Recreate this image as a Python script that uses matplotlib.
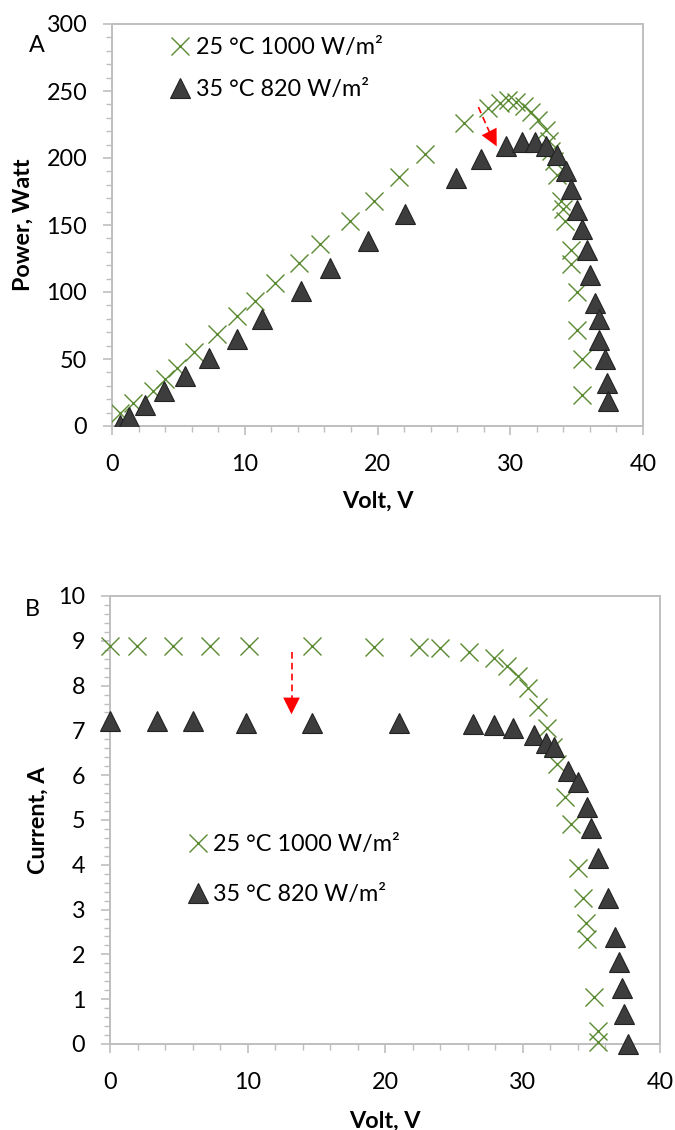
import matplotlib
matplotlib.use('Agg')
import matplotlib.pyplot as plt
from matplotlib.ticker import MultipleLocator
from matplotlib.lines import Line2D

plt.rcParams['font.family'] = ['Lato', 'DejaVu Sans']

series_labels = ['25 °C 1000 W/m²', '35 °C 820 W/m²']

# Panel A: power vs voltage
a_v_std = [0.6, 1.6, 3.1, 4.0, 4.9, 6.2, 7.9, 9.4, 10.8, 12.3, 14.1, 15.7, 17.9, 19.7,
           21.6, 23.6, 26.5, 28.3, 29.2, 29.8, 30.4, 31.0, 31.6, 32.1, 32.7, 32.9, 33.1,
           33.3, 33.5, 33.8, 34.0, 34.1, 34.6, 34.6, 35.0, 35.0, 35.4, 35.4]
a_p_std = [10, 17.5, 26, 35, 43.6, 55, 68.6, 82, 93.5, 107, 122, 136, 153, 168,
           186, 203, 226, 237, 241, 243, 242, 239, 234, 228, 221, 213, 205,
           198, 187, 168, 162, 153, 131, 121, 100, 72, 50, 23]
a_v_hot = [0.6, 1.3, 2.5, 3.9, 5.5, 7.3, 9.4, 11.3, 14.2, 16.4, 19.3, 22.1, 25.9, 27.8,
           29.7, 30.9, 31.9, 32.7, 33.5, 34.2, 34.6, 35.0, 35.4, 35.8, 36.0, 36.4, 36.7,
           36.7, 37.1, 37.3, 37.4]
a_p_hot = [0.7, 6.7, 16, 26, 37, 51, 65, 80, 101, 118, 138, 158, 185, 199,
           209, 212, 212, 209, 202, 190, 177, 161, 147, 131, 113, 92, 80,
           64, 50, 32, 19]

# Panel B: current vs voltage
b_v_std = [0.0, 1.95, 4.6, 7.3, 10.1, 14.7, 19.2, 22.5, 24.0, 26.1, 27.9, 28.9, 29.7,
           30.4, 31.1, 31.8, 32.2, 32.5, 33.1, 33.5, 34.0, 34.4, 34.6, 34.7, 35.2, 35.5, 35.5]
b_i_std = [8.89, 8.89, 8.89, 8.89, 8.89, 8.89, 8.86, 8.86, 8.83, 8.76, 8.62, 8.44, 8.22,
           7.94, 7.52, 7.06, 6.62, 6.25, 5.52, 4.91, 3.93, 3.26, 2.71, 2.34, 1.04, 0.30, 0.04]
b_v_hot = [0.0, 3.4, 6.0, 9.9, 14.7, 21.0, 26.4, 27.9, 29.3, 30.8, 31.7, 32.3, 33.3,
           34.0, 34.7, 35.0, 35.5, 36.2, 36.7, 37.0, 37.2, 37.4, 37.7]
b_i_hot = [7.2, 7.2, 7.2, 7.17, 7.17, 7.17, 7.15, 7.12, 7.06, 6.89, 6.71, 6.62, 6.10,
           5.84, 5.28, 4.83, 4.16, 3.26, 2.38, 1.82, 1.25, 0.67, 0.01]

# red dashed arrows: start, head base, tip  (data coords)
a_arrow = [(27.6, 238), (28.45, 219), (28.98, 208.7)]
b_arrow = [(13.2, 8.74), (13.2, 7.70), (13.2, 7.36)]

green = '#5a8a32'
tri_face = '#3d3d3d'
tri_edge = '#222222'
grey = '#bfbfbf'
FS = 16.8

W, H = 675, 1130
fig = plt.figure(figsize=(W / 100, H / 100), dpi=100)


def px_axes(l, t, r, b):
    return fig.add_axes([l / W, 1 - b / H, (r - l) / W, (b - t) / H])


axA = px_axes(112, 24, 643, 426)
axB = px_axes(110, 596, 660, 1044)


def style(ax, xmax, ymax, ymaj, ymin):
    ax.set_xlim(0, xmax)
    ax.set_ylim(0, ymax)
    ax.xaxis.set_major_locator(MultipleLocator(10))
    ax.xaxis.set_minor_locator(MultipleLocator(2))
    ax.yaxis.set_major_locator(MultipleLocator(ymaj))
    ax.yaxis.set_minor_locator(MultipleLocator(ymin))
    for s in ax.spines.values():
        s.set_color(grey)
        s.set_linewidth(1.4)
    ax.tick_params(which='major', direction='out', length=6.3, width=1.2, color=grey,
                   labelsize=FS, labelcolor='black')
    ax.tick_params(which='minor', direction='out', length=4.2, width=1.0, color=grey)
    ax.tick_params(axis='y', which='major', pad=11.5)
    ax.tick_params(axis='x', which='major', pad=13.6)


def arrow(ax, pts):
    (x0, y0), (x1, y1), (x2, y2) = pts
    ax.plot([x0, x1], [y0, y1], color='red', lw=1.2, ls=(0, (4, 2.5)), zorder=5)
    ax.annotate('', xy=(x2, y2), xytext=(x1, y1),
                arrowprops=dict(arrowstyle='-|>,head_length=0.6,head_width=0.3',
                                color='red', lw=0, shrinkA=0, shrinkB=0,
                                mutation_scale=20), zorder=6)


mk_std = dict(ls='none', marker='x', ms=13, mew=1.0, color=green)
mk_hot = dict(ls='none', marker='^', ms=14.5, mfc=tri_face, mec=tri_edge, mew=0.8)
handles = [Line2D([], [], **mk_std), Line2D([], [], **mk_hot)]
leg_kw = dict(loc='upper left', frameon=False, fontsize=FS, handlelength=1.0,
              handletextpad=0.15, borderpad=0, borderaxespad=0, numpoints=1)

# Panel A
style(axA, 40, 300, 50, 10)
axA.plot(a_v_std, a_p_std, zorder=3, **mk_std)
axA.plot(a_v_hot, a_p_hot, zorder=4, **mk_hot)
arrow(axA, a_arrow)
axA.set_xlabel('Volt, V', fontsize=FS, fontweight='bold')
axA.set_ylabel('Power, Watt', fontsize=FS, fontweight='bold')
axA.xaxis.set_label_coords(0.5, -0.16)
axA.yaxis.set_label_coords(-0.147, 0.5)
axA.legend(handles, series_labels, bbox_to_anchor=(0.107, 0.968),
           labelspacing=0.92, **leg_kw)
fig.text(37 / W, 1 - 45 / H, 'A', fontsize=FS, ha='center', va='center')

# Panel B
style(axB, 40, 10, 1, 0.2)
axB.plot(b_v_std, b_i_std, zorder=3, clip_on=False, **mk_std)
axB.plot(b_v_hot, b_i_hot, zorder=4, clip_on=False, **mk_hot)
arrow(axB, b_arrow)
axB.set_xlabel('Volt, V', fontsize=FS, fontweight='bold')
axB.set_ylabel('Current, A', fontsize=FS, fontweight='bold')
axB.xaxis.set_label_coords(0.5, -0.148)
axB.yaxis.set_label_coords(-0.111, 0.5)
axB.legend(handles, series_labels, bbox_to_anchor=(0.139, 0.469),
           labelspacing=1.25, **leg_kw)
fig.text(32 / W, 1 - 609 / H, 'B', fontsize=FS, ha='center', va='center')

fig.savefig('out.png', dpi=100)
